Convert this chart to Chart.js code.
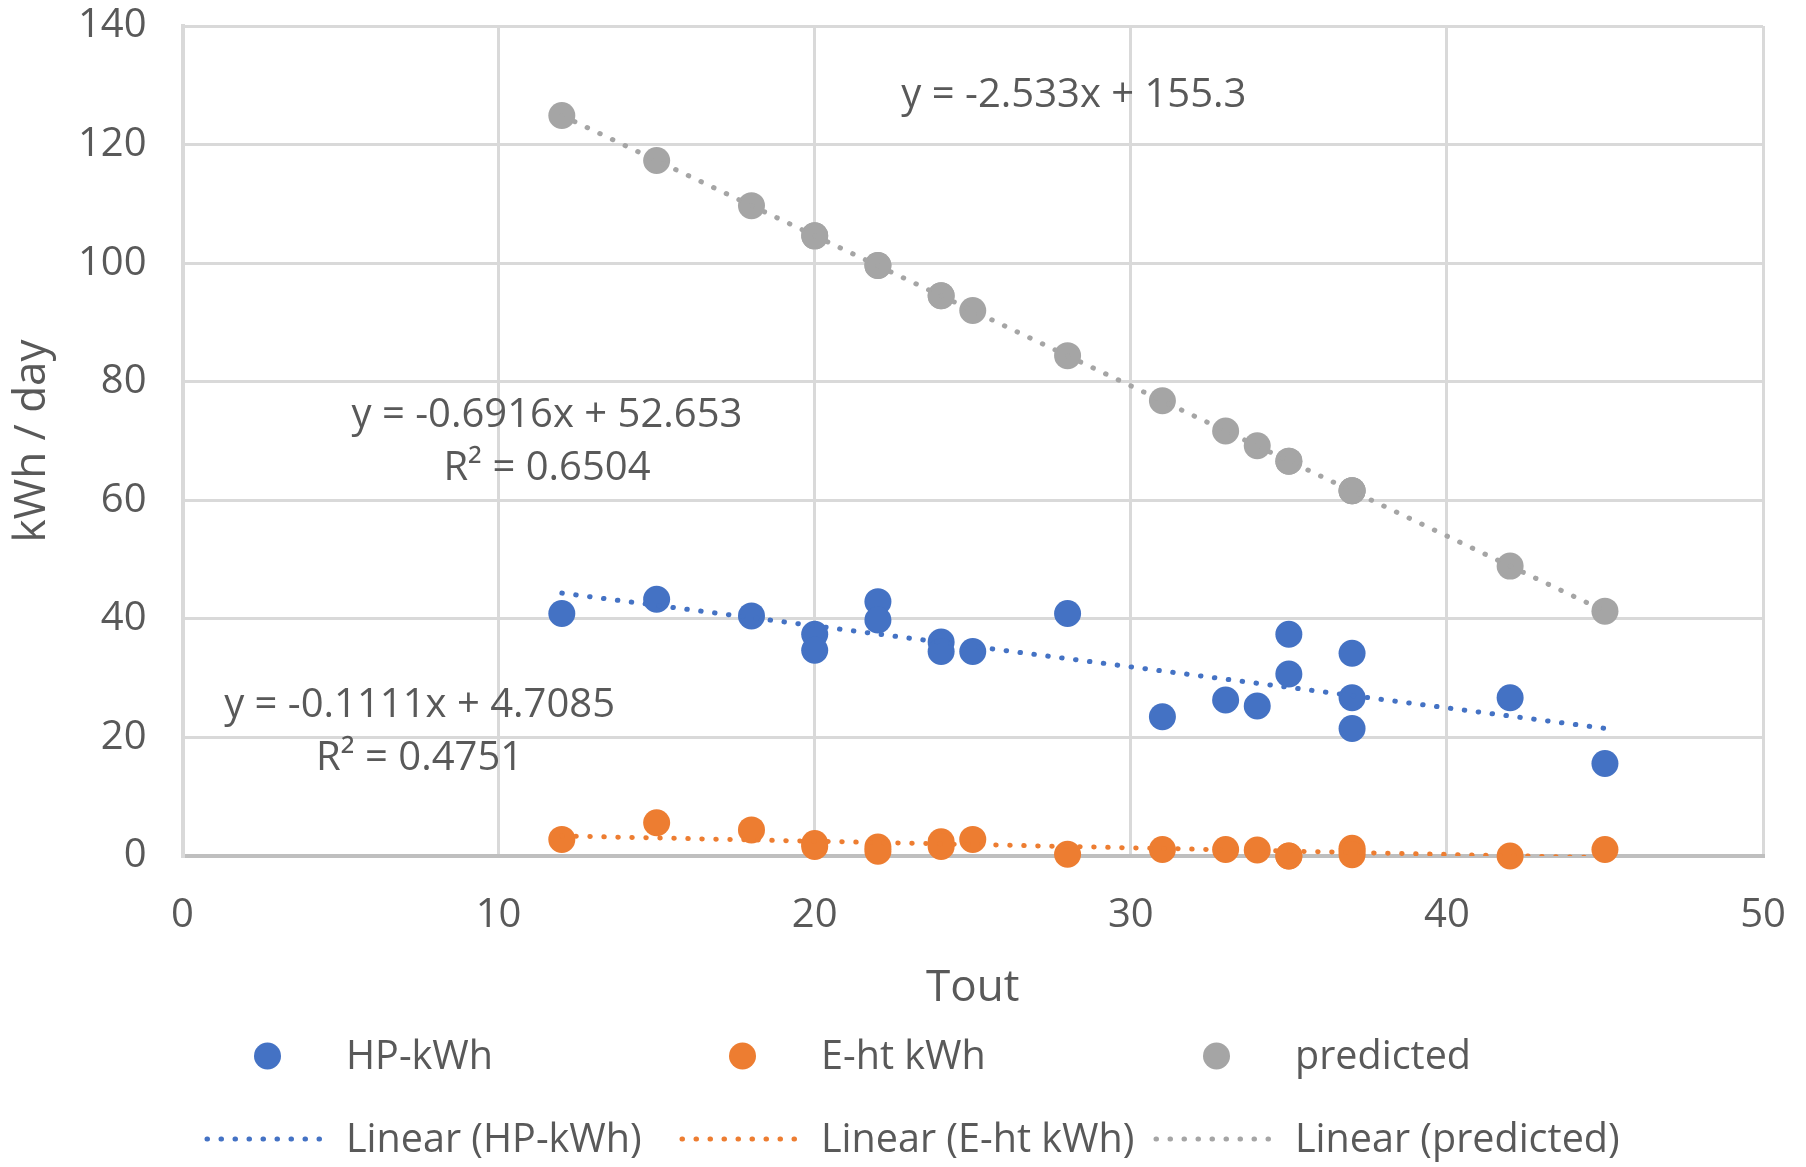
<!DOCTYPE html>
<html>
<head>
<meta charset="utf-8">
<script src="https://cdn.jsdelivr.net/npm/chart.js@4"></script>
<style>
html,body{margin:0;padding:0;background:#ffffff;}
canvas{display:block;}
</style>
</head>
<body>
<canvas id="c" width="1806" height="1167"></canvas>
<script>
// ---------- DATA ----------
const tout      = [12, 15, 18, 20, 20, 22, 22, 24, 24, 25, 28, 31, 33, 34, 35, 35, 37, 37, 37, 42, 45];
const hpKwh     = [40.9, 43.3, 40.5, 37.4, 34.7, 42.9, 39.8, 36.1, 34.5, 34.5, 40.9, 23.5, 26.3, 25.3, 37.4, 30.7, 34.2, 26.7, 21.5, 26.7, 15.6];
const ehtKwh    = [2.8, 5.6, 4.4, 2.1, 1.6, 1.5, 0.8, 2.4, 1.6, 2.8, 0.3, 1.1, 1.1, 1.0, 0.0, 0.0, 1.3, 0.8, 0.2, 0.0, 1.1];
const predicted = [124.9, 117.3, 109.7, 104.6, 104.6, 99.6, 99.6, 94.5, 94.5, 92.0, 84.4, 76.8, 71.7, 69.2, 66.6, 66.6, 61.6, 61.6, 61.6, 48.9, 41.3];

const trendX     = [12, 45];
const hpTrendY   = [44.35, 21.53];
const ehtTrendY  = [3.38, -0.29];
const predTrendY = [124.9, 41.3];

const seriesNames = ['HP-kWh', 'E-ht kWh', 'predicted'];
const trendNames  = ['Linear (HP-kWh)', 'Linear (E-ht kWh)', 'Linear (predicted)'];
const equationText = [
  ['y = -0.6916x + 52.653', 'R\u00B2 = 0.6504'],
  ['y = -0.1111x + 4.7085', 'R\u00B2 = 0.4751'],
  ['y = -2.533x + 155.3']
];
const xTicks = [0, 10, 20, 30, 40, 50];
const yTicks = [0, 20, 40, 60, 80, 100, 120, 140];
const xTitle = 'Tout';
const yTitle = 'kWh / day';

// ---------- STYLE ----------
const FONT = "'Open Sans', 'Noto Sans', sans-serif";
const TXT = '#595959';
const COLORS = ['#4472C4', '#ED7D31', '#A5A5A5'];
const DASH = [0.5, 13.5];
const LINE_W = 5;
const MARKER_R = 13.5;

// label anchor positions (data coordinates), separate from the data
const labelAnchors = [
  {x: 11.53, y: [74.2, 65.3]},
  {x: 7.5,   y: [25.4, 16.4]},
  {x: 28.2,  y: [128.3]}
];

function pts(xs, ys) { return xs.map((x, i) => ({x: x, y: ys[i]})); }

const scatterSets = [hpKwh, ehtKwh, predicted].map((ys, i) => ({
  type: 'scatter',
  label: seriesNames[i],
  data: pts(tout, ys),
  backgroundColor: COLORS[i],
  borderColor: COLORS[i],
  borderWidth: 0,
  pointRadius: MARKER_R,
  pointHoverRadius: MARKER_R,
  pointBorderWidth: 0,
  clip: false,
  order: 2
}));

const trendSets = [hpTrendY, ehtTrendY, predTrendY].map((ys, i) => ({
  type: 'line',
  label: trendNames[i],
  data: pts(trendX, ys),
  borderColor: COLORS[i],
  backgroundColor: COLORS[i],
  borderWidth: LINE_W,
  borderDash: DASH,
  borderCapStyle: 'round',
  pointRadius: 0,
  fill: false,
  tension: 0,
  clip: 0,
  order: 1
}));

// custom legend: 3 columns x 2 rows
const gridLegend = {
  id: 'gridLegend',
  afterDraw(chart) {
    const ctx = chart.ctx;
    const ds = chart.data.datasets;
    const colStart = [205, 680, 1154];   // left of symbol area
    const symW = 121;
    const textGap = 20;
    const rowY = [1058, 1141];
    ctx.save();
    ctx.font = '39.5px ' + FONT;
    ctx.textBaseline = 'middle';
    ctx.textAlign = 'left';
    for (let r = 0; r < 2; r++) {
      for (let c = 0; c < 3; c++) {
        const d = ds[r * 3 + c];
        const x0 = colStart[c];
        const y = rowY[r];
        if (r === 0) {
          ctx.beginPath();
          ctx.fillStyle = d.backgroundColor;
          ctx.arc(x0 + symW / 2 + 2, y - 2, MARKER_R, 0, Math.PI * 2);
          ctx.fill();
        } else {
          ctx.beginPath();
          ctx.strokeStyle = d.borderColor;
          ctx.lineWidth = LINE_W;
          ctx.lineCap = 'round';
          ctx.setLineDash(DASH);
          ctx.moveTo(x0 + 2, y - 2);
          ctx.lineTo(x0 + symW, y - 2);
          ctx.stroke();
          ctx.setLineDash([]);
        }
        ctx.fillStyle = TXT;
        ctx.fillText(d.label, x0 + symW + textGap, y);
      }
    }
    ctx.restore();
  }
};

// trendline equation labels
const eqLabels = {
  id: 'eqLabels',
  afterDatasetsDraw(chart) {
    const ctx = chart.ctx;
    const xs = chart.scales.x, ys = chart.scales.y;
    ctx.save();
    ctx.font = '40px ' + FONT;
    ctx.fillStyle = TXT;
    ctx.textAlign = 'center';
    ctx.textBaseline = 'middle';
    equationText.forEach((lines, i) => {
      const a = labelAnchors[i];
      lines.forEach((t, j) => {
        ctx.fillText(t, xs.getPixelForValue(a.x), ys.getPixelForValue(a.y[j]));
      });
    });
    ctx.restore();
  }
};

new Chart(document.getElementById('c'), {
  type: 'scatter',
  data: { datasets: scatterSets.concat(trendSets) },
  options: {
    responsive: false,
    animation: false,
    devicePixelRatio: 1,
    layout: { padding: { left: 0, right: 43, top: 26, bottom: 151 } },
    plugins: { legend: { display: false }, tooltip: { enabled: false } },
    scales: {
      x: {
        type: 'linear',
        position: 'bottom',
        min: xTicks[0],
        max: xTicks[xTicks.length - 1],
        afterBuildTicks(s) { s.ticks = xTicks.map(v => ({value: v})); },
        ticks: { padding: 36, color: TXT, font: { family: FONT, size: 40 } },
        grid: { color: '#D9D9D9', lineWidth: 3, drawTicks: false },
        border: { color: '#BFBFBF', width: 4 },
        title: { display: true, text: xTitle, color: TXT, font: { family: FONT, size: 44 }, padding: { top: 0, bottom: 1 } },
        afterFit(s) { s.height = 160; s.paddingLeft = 0; s.paddingRight = 0; s.paddingTop = 0; s.paddingBottom = 0; }
      },
      y: {
        type: 'linear',
        min: yTicks[0],
        max: yTicks[yTicks.length - 1],
        afterBuildTicks(s) { s.ticks = yTicks.map(v => ({value: v})); },
        ticks: { padding: 36, color: TXT, font: { family: FONT, size: 40 } },
        grid: { color: '#D9D9D9', lineWidth: 3, drawTicks: false },
        border: { color: '#D9D9D9', width: 4 },
        title: { display: true, text: yTitle, color: TXT, font: { family: FONT, size: 44 }, padding: { top: 6, bottom: 0 } },
        afterFit(s) { s.width = 182.5; s.paddingLeft = 0; s.paddingRight = 0; s.paddingTop = 0; s.paddingBottom = 0; }
      }
    }
  },
  plugins: [eqLabels, gridLegend]
});
</script>
</body>
</html>
